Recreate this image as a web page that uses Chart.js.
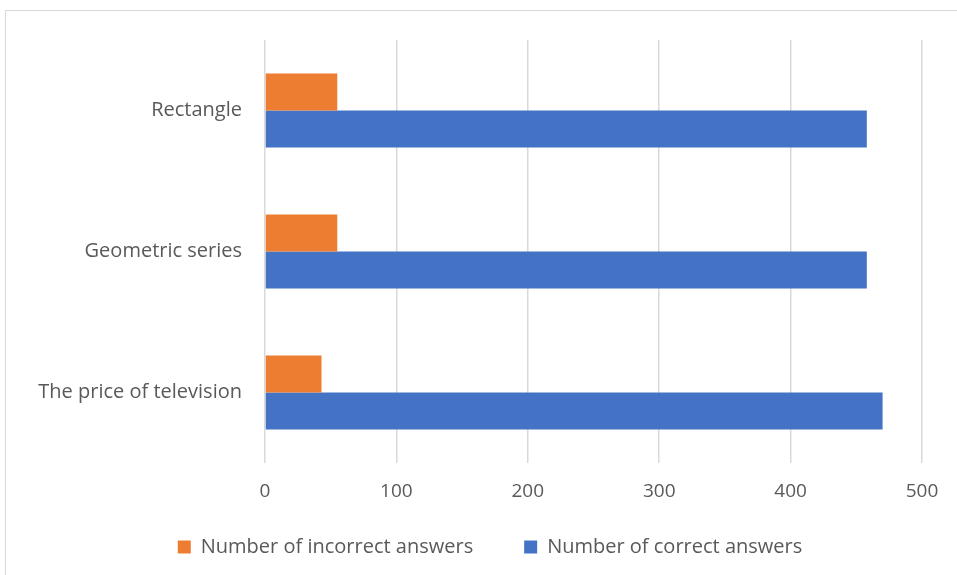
<!DOCTYPE html>
<html>
<head>
<meta charset="utf-8">
<script src="https://cdn.jsdelivr.net/npm/chart.js@4"></script>
<style>
    html, body { margin: 0; padding: 0; background: #fff; }
    .frame {
        position: absolute; left: 5px; top: 10px; width: 960px; height: 570px;
        border-left: 1px solid #d9d9d9; border-top: 1px solid #d9d9d9;
    }
    .wrap { position: absolute; left: 0; top: 0; width: 957px; height: 575px; }
</style>
</head>
<body>
<div class="frame"></div>
<div class="wrap"><canvas id="barChart"></canvas></div>
<script>
    const categories = ['Rectangle', 'Geometric series', 'The price of television'];
    const incorrectAnswers = [55, 55, 43];
    const correctAnswers = [458, 458, 470];
    const xTicks = [0, 100, 200, 300, 400, 500];

    const font = '"Open Sans", Lato, sans-serif';
    const textColor = '#595959';
    const gridColor = '#d9d9d9';

    // legend.labels.padding sets both the gap between items and the top offset,
    // so pull the legend box up a bit after layout to keep the wide gap
    const legendNudge = {
        id: 'legendNudge',
        afterLayout(chart) {
            if (chart.legend) chart.legend.top -= 26;
        }
    };

    const ctx = document.getElementById('barChart').getContext('2d');

    new Chart(ctx, {
        type: 'bar',
        data: {
            labels: categories,
            datasets: [
                {
                    label: 'Number of incorrect answers',
                    data: incorrectAnswers,
                    backgroundColor: '#ED7D31',
                    borderWidth: 0
                },
                {
                    label: 'Number of correct answers',
                    data: correctAnswers,
                    backgroundColor: '#4472C4',
                    borderWidth: 0
                }
            ]
        },
        options: {
            indexAxis: 'y',
            responsive: true,
            maintainAspectRatio: false,
            animation: false,
            layout: {
                padding: { top: 40, right: 0, bottom: 8, left: 23 }
            },
            datasets: {
                bar: { barPercentage: 1, categoryPercentage: 0.525 }
            },
            plugins: {
                tooltip: { enabled: false },
                legend: {
                    position: 'bottom',
                    maxHeight: 55,
                    labels: {
                        font: { family: font, size: 20 },
                        color: textColor,
                        boxWidth: 13,
                        boxHeight: 13,
                        padding: 51
                    }
                }
            },
            scales: {
                x: {
                    min: 0,
                    max: 500,
                    afterBuildTicks: function (scale) {
                        scale.ticks = xTicks.map(v => ({ value: v }));
                    },
                    afterFit: function (scale) { scale.height = 49; },
                    border: { display: false },
                    grid: { color: gridColor, lineWidth: 1.5, drawTicks: false },
                    ticks: {
                        font: { family: font, size: 19 },
                        color: textColor,
                        padding: 17
                    }
                },
                y: {
                    afterFit: function (scale) { scale.width = 242; },
                    border: { display: false },
                    grid: { display: false, drawTicks: false },
                    ticks: {
                        font: { family: font, size: 20 },
                        color: textColor,
                        padding: 23
                    }
                },
                // empty right-hand gutter so the plot stops at 500
                yRight: {
                    type: 'category',
                    position: 'right',
                    afterFit: function (scale) { scale.width = 35; },
                    border: { display: false },
                    grid: { display: false, drawTicks: false },
                    ticks: { display: false }
                }
            }
        },
        plugins: [legendNudge]
    });
</script>
</body>
</html>
